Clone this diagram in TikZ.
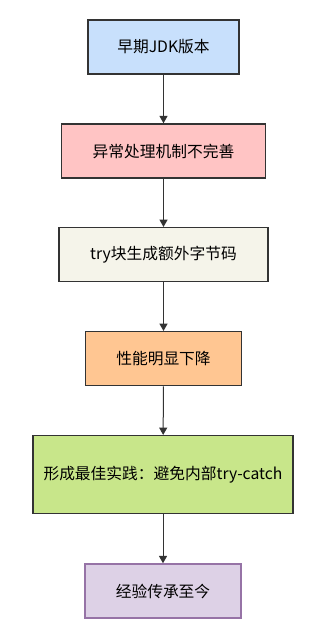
\documentclass[tikz,border=0pt]{standalone}
\usepackage{fontspec}
\setmainfont{Noto Sans CJK SC}
\usepackage{tikz}
\usetikzlibrary{arrows.meta,positioning}
\definecolor{linecol}{RGB}{51,51,51}
\definecolor{bluefill}{RGB}{200,224,252}
\definecolor{redfill}{RGB}{255,196,196}
\definecolor{beigefill}{RGB}{245,244,234}
\definecolor{orangefill}{RGB}{255,198,146}
\definecolor{greenfill}{RGB}{200,230,138}
\definecolor{purplefill}{RGB}{221,209,230}
\definecolor{purpleline}{RGB}{150,115,166}
\begin{document}
\begin{tikzpicture}[
      x=0.75pt,y=-0.75pt,
      box/.style={draw=linecol,line width=1.1pt,minimum height=40.5pt,align=center,font=\fontsize{11.8}{14}\selectfont,text=black,inner sep=2pt},
      flow/.style={draw=linecol,line width=0.75pt,-{Triangle[width=6pt,length=5.5pt]}}
    ]
      \useasboundingbox (0,0) rectangle (317,638);
      % Steps top to bottom
      \node[box,fill=bluefill,minimum width=113.25pt]   (jdk)    at (163.5,47)    {早期JDK版本};
      \node[box,fill=redfill,minimum width=153pt]       (exc)    at (163.5,151)   {异常处理机制不完善};
      \node[box,fill=beigefill,minimum width=156.75pt]  (bytes)  at (163.5,254.7) {try块生成额外字节码};
      \node[box,fill=orangefill,minimum width=117pt]    (perf)   at (163.5,358.7) {性能明显下降};
      \node[box,fill=greenfill,minimum width=195pt,minimum height=58.5pt] (best) at (163,474.7) {形成最佳实践：避免内部try-catch};
      \node[box,draw=purpleline,fill=purplefill,minimum width=117pt] (legacy) at (163,591) {经验传承至今};
      % Arrows
      \draw[flow] (jdk) -- (exc);
      \draw[flow] (exc) -- (bytes);
      \draw[flow] (bytes) -- (perf);
      \draw[flow] (perf) -- (best);
      \draw[flow] (best) -- (legacy);
    \end{tikzpicture}
\end{document}
